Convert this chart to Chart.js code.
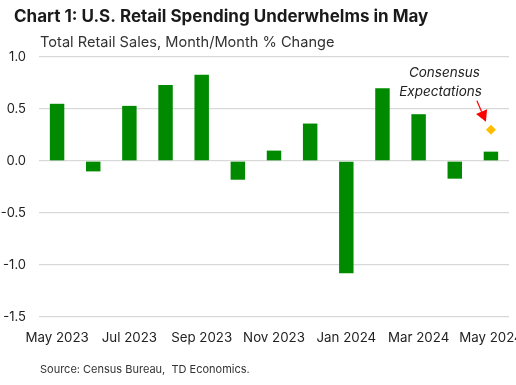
<!DOCTYPE html>
<html>
<head>
<meta charset="utf-8">
<script src="https://cdn.jsdelivr.net/npm/chart.js@4"></script>
<style>
  html, body { margin: 0; padding: 0; background: #fff; overflow: hidden; }
  #wrap { position: relative; width: 516px; height: 385px; }
  canvas { display: block; }
</style>
</head>
<body>
<div id="wrap"><canvas id="c" width="516" height="385"></canvas></div>
<script>
const titleText = "Chart 1: U.S. Retail Spending Underwhelms in May";
const subtitleText = "Total Retail Sales, Month/Month % Change";
const sourceText = "Source: Census Bureau,  TD Economics.";
const annotationLines = ["Consensus", "Expectations"];

const categories = ["May 2023","Jun 2023","Jul 2023","Aug 2023","Sep 2023","Oct 2023","Nov 2023",
                    "Dec 2023","Jan 2024","Feb 2024","Mar 2024","Apr 2024","May 2024"];
const retailSales = [0.55, -0.10, 0.53, 0.73, 0.83, -0.18, 0.10, 0.36, -1.08, 0.70, 0.45, -0.17, 0.09];
const consensus = [null, null, null, null, null, null, null, null, null, null, null, null, 0.30];
const yTicks = [1.0, 0.5, 0.0, -0.5, -1.0, -1.5];

const FONT = "Inter, 'DejaVu Sans', sans-serif";

const textPlugin = {
  id: 'texts',
  afterDraw(chart) {
    const ctx = chart.ctx;
    ctx.save();
    ctx.textBaseline = 'middle';
    ctx.textAlign = 'left';
    ctx.fillStyle = '#1a1a1a';
    ctx.font = "bold 17px " + FONT;
    ctx.fillText(titleText, 14, 17);
    ctx.fillStyle = '#333';
    ctx.font = "14.6px " + FONT;
    ctx.fillText(subtitleText, 40, 43);
    ctx.font = "11px " + FONT;
    ctx.fillStyle = '#333';
    ctx.fillText(sourceText, 40, 370);

    // annotation relative to consensus point
    const meta = chart.getDatasetMeta(1);
    const pt = meta.data[12];
    if (pt) {
      const px = pt.x, py = pt.y;
      ctx.font = "italic 13.5px " + FONT;
      ctx.fillStyle = '#222';
      ctx.textAlign = 'right';
      ctx.fillText(annotationLines[0], px - 11, py - 57);
      ctx.fillText(annotationLines[1], px - 9, py - 38);
      // arrow
      const x0 = px - 14, y0 = py - 29, x1 = px - 5, y1 = py - 8;
      const ang = Math.atan2(y1 - y0, x1 - x0);
      const hl = 11, hw = 6;
      const bx = x1 - hl * Math.cos(ang), by = y1 - hl * Math.sin(ang);
      ctx.strokeStyle = '#ff0000';
      ctx.lineWidth = 1.2;
      ctx.beginPath();
      ctx.moveTo(x0, y0);
      ctx.lineTo(bx, by);
      ctx.stroke();
      ctx.fillStyle = '#ff0000';
      ctx.beginPath();
      ctx.moveTo(x1, y1);
      ctx.lineTo(bx + hw * Math.sin(ang), by - hw * Math.cos(ang));
      ctx.lineTo(bx - hw * Math.sin(ang), by + hw * Math.cos(ang));
      ctx.closePath();
      ctx.fill();
    }
    ctx.restore();
  }
};

new Chart(document.getElementById('c'), {
  type: 'bar',
  data: {
    labels: categories,
    datasets: [
      {
        label: 'Total Retail Sales',
        data: retailSales,
        backgroundColor: '#008a00',
        borderWidth: 0,
        categoryPercentage: 1.0,
        barPercentage: 0.4,
        order: 2
      },
      {
        type: 'line',
        label: 'Consensus Expectations',
        data: consensus,
        showLine: false,
        pointStyle: 'rectRot',
        pointRadius: 5,
        pointBackgroundColor: '#ffbe00',
        pointBorderColor: '#ffbe00',
        pointBorderWidth: 0,
        order: 1
      }
    ]
  },
  options: {
    responsive: false,
    animation: false,
    devicePixelRatio: 1,
    layout: { padding: { top: 57, right: 7, bottom: 0, left: 0 } },
    plugins: {
      legend: { display: false },
      title: { display: false },
      tooltip: { enabled: false }
    },
    scales: {
      x: {
        offset: true,
        grid: { display: false, drawTicks: false },
        border: { display: false },
        ticks: {
          autoSkip: false,
          maxRotation: 0,
          minRotation: 0,
          padding: 13,
          color: '#222',
          font: { family: FONT, size: 13.3 },
          callback: function(v, i) { return i % 2 === 0 ? categories[i] : ''; }
        },
        afterFit: function(s) { s.height = 68; s.paddingLeft = 0; s.paddingRight = 0; }
      },
      y: {
        min: -1.5,
        max: 1.0,
        grid: { color: '#d9d9d9', lineWidth: 1.3, drawTicks: false },
        border: { display: false },
        afterBuildTicks: function(s) { s.ticks = yTicks.map(v => ({ value: v })); },
        ticks: {
          padding: 13,
          color: '#222',
          font: { family: FONT, size: 13 },
          callback: function(v) { return Number(v).toFixed(1); }
        },
        afterFit: function(s) { s.width = 39; s.paddingTop = 0; s.paddingBottom = 0; }
      }
    }
  },
  plugins: [textPlugin]
});
</script>
</body>
</html>
